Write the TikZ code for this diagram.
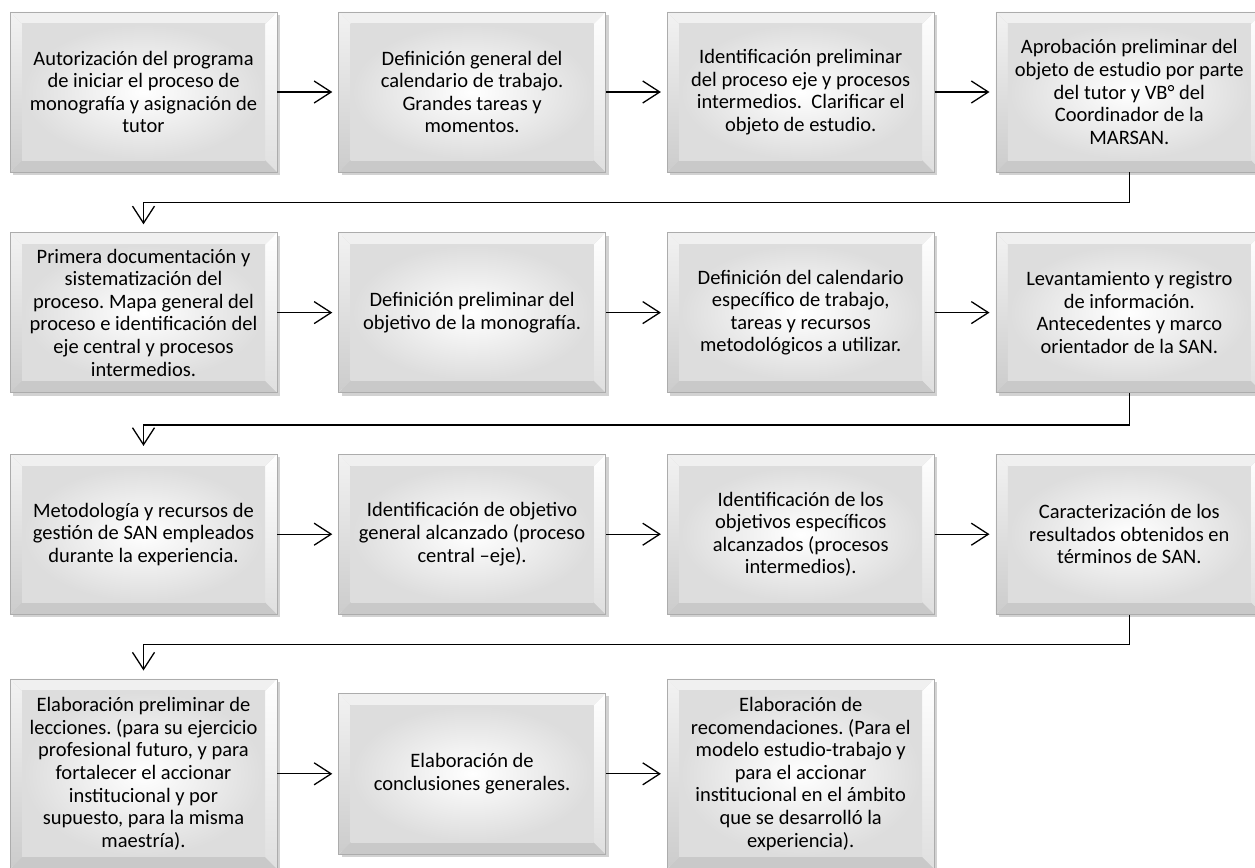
\documentclass[tikz,border=0pt]{standalone}
\usepackage{fontspec}
\setmainfont{Carlito}
\usetikzlibrary{shapes,arrows.meta,chains,positioning,shadows}
\frenchspacing

\begin{document}
\begin{tikzpicture}[%
    x=1pt, y=1pt,
    >={Straight Barb[length=17pt,width=22pt]}, % open arrow heads
    node distance=60pt and 61pt,               % box spacing
    every join/.style={norm},                  % connectors inside a row
    font=\fontsize{20.5}{22.6}\selectfont,
    ]
% -------------------------------------------------
% Box and connector styles
\tikzset{
  base/.style={on chain, align=center, inner sep=0pt,
    minimum width=267pt, minimum height=160pt,
    draw=gray!65, line width=0.6pt,
    drop shadow={shadow xshift=3pt, shadow yshift=-3pt, fill=gray!70, opacity=.5},
    path picture={
      \path (path picture bounding box.south west) coordinate (sw)
            (path picture bounding box.north east) coordinate (ne);
      \path ([shift={(12pt,12pt)}]sw) coordinate (isw)
            ([shift={(-12pt,-12pt)}]ne) coordinate (ine);
      % bevel edges
      \fill[gray!42] (sw) -- (ne|-sw) -- (ine|-isw) -- (isw) -- cycle;
      \shade[top color=white, bottom color=gray!25]
        (ne|-sw) -- (ne) -- (ine) -- (ine|-isw) -- cycle;
      \shade[top color=gray!10, bottom color=gray!40]
        (sw) -- (sw|-ne) -- (isw|-ine) -- (isw) -- cycle;
      \fill[gray!12] (sw|-ne) -- (ne) -- (ine) -- (isw|-ine) -- cycle;
      % face
      \shade[inner color=white, outer color=gray!27] (isw) rectangle (ine);
    }},
  proc/.style={base},
  tall/.style={base, minimum height=190pt},
  small/.style={base, minimum height=161pt},
  norm/.style={->, draw, line width=1.3pt, shorten >=6pt},
  turn/.style={->, draw, line width=1.3pt, shorten >=8pt}
}
\useasboundingbox (0,0) rectangle (1255,-867);
% -------------------------------------------------
% Row 1
\begin{scope}[start chain=r1 going right]
\node [proc] (a1) at (143.5,-92)
  {Autorización del programa\\de iniciar el proceso de\\monografía y asignación de\\tutor};
\node [proc, join] (a2)
  {Definición general del\\calendario de trabajo.\\Grandes tareas y\\momentos.};
\node [proc, join] (a3)
  {Identificación preliminar\\del proceso eje y procesos\\intermedios.~ Clarificar el\\objeto de estudio.};
\node [proc, join] (a4)
  {Aprobación preliminar del\\objeto de estudio por parte\\del tutor y VB° del\\Coordinador de la\\MARSAN.};
\end{scope}
% Row 2
\begin{scope}[start chain=r2 going right]
\node [proc, below=of a1] (b1)
  {Primera documentación y\\sistematización del\\proceso. Mapa general del\\proceso e identificación del\\eje central y procesos\\intermedios.};
\node [proc, join] (b2)
  {Definición preliminar del\\objetivo de la monografía.};
\node [proc, join] (b3)
  {Definición del calendario\\específico de trabajo,\\tareas y recursos\\metodológicos a utilizar.};
\node [proc, join] (b4)
  {Levantamiento y registro\\de información.\\Antecedentes y marco\\orientador de la SAN.};
\end{scope}
% Row 3
\begin{scope}[start chain=r3 going right]
\node [proc, below=61pt of b1] (c1)
  {Metodología y recursos de\\gestión de SAN empleados\\durante la experiencia.};
\node [proc, join] (c2)
  {Identificación de objetivo\\general alcanzado (proceso\\central –eje).};
\node [proc, join] (c3)
  {Identificación de los\\objetivos específicos\\alcanzados (procesos\\intermedios).};
\node [proc, join] (c4)
  {Caracterización de los\\resultados obtenidos en\\términos de SAN.};
\end{scope}
% Row 4
\begin{scope}[start chain=r4 going right]
\node [tall, below=64pt of c1] (d1)
  {Elaboración preliminar de\\lecciones. (para su ejercicio\\profesional futuro, y para\\fortalecer el accionar\\institucional y por\\supuesto, para la misma\\maestría).};
\node [small, join] (d2)
  {Elaboración de\\conclusiones generales.};
\node [tall, join] (d3)
  {Elaboración de\\recomendaciones. (Para el\\modelo estudio-trabajo y\\para el accionar\\institucional en el ámbito\\que se desarrolló la\\experiencia).};
\end{scope}

% Connectors between rows
\draw [turn] (a4.south) -- ++(0,-30) -| (b1.north);
\draw [turn] (b4.south) -- ++(0,-32) -| (c1.north);
\draw [turn] (c4.south) -- ++(0,-30) -| (d1.north);
% -------------------------------------------------
\end{tikzpicture}
\end{document}
